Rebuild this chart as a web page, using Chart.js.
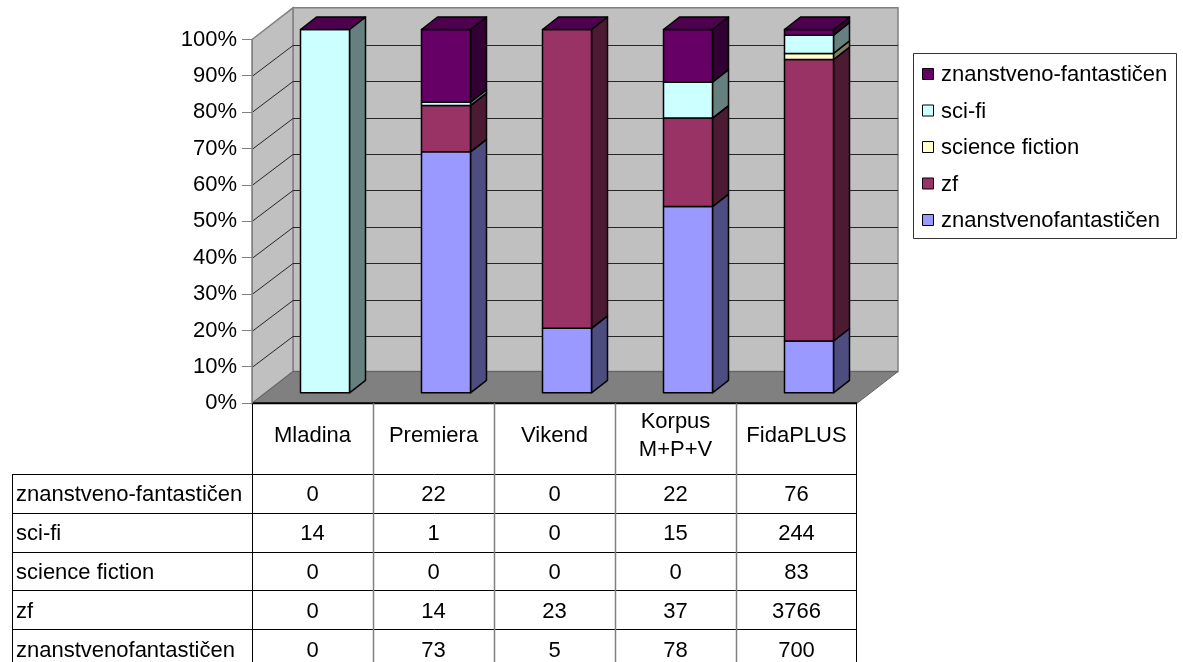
<!DOCTYPE html>
<html>
<head>
<meta charset="utf-8">
<script src="https://cdn.jsdelivr.net/npm/chart.js@4.4.0/dist/chart.umd.min.js"></script>
<style>
    html, body { margin: 0; padding: 0; background: #fff; }
    canvas { display: block; }
</style>
</head>
<body>
<canvas id="chart" width="1183" height="662"></canvas>
<script>
// Kategorije (viri)
const categories = ['Mladina', 'Premiera', 'Vikend', ['Korpus', 'M+P+V'], 'FidaPLUS'];
const yTickLabels = ['0%', '10%', '20%', '30%', '40%', '50%', '60%', '70%', '80%', '90%', '100%'];

// Pojavitve posameznih izrazov po virih
const znanstvenofantasticen = [0, 73, 5, 78, 700];
const zf = [0, 14, 23, 37, 3766];
const scienceFiction = [0, 0, 0, 0, 83];
const sciFi = [14, 1, 0, 15, 244];
const znanstvenoFantasticen = [0, 22, 0, 22, 76];

// vrstni red sklada: od spodaj navzgor
const seriesLabels = ['znanstvenofantastičen', 'zf', 'science fiction', 'sci-fi', 'znanstveno-fantastičen'];
const seriesValues = [znanstvenofantasticen, zf, scienceFiction, sciFi, znanstvenoFantasticen];

const frontColors = ['#9999FF', '#993366', '#FFFFCC', '#CCFFFF', '#660066'];
const sideColors  = ['#4D4D80', '#4D1A33', '#808066', '#668080', '#330033'];
const topColors   = ['#7373BF', '#73264D', '#BFBF99', '#99BFBF', '#4D004D'];

const FONT = '22px "Liberation Sans", Arial, sans-serif';
const WALL = { dx: 41, dy: -31.7 };                   // globina stene
const BAR = { sx: 12.5, sy: -10, dx: 16, dy: -12.5 }; // zamik in globina stolpcev

const totals = categories.map((_, i) => seriesValues.reduce((s, arr) => s + arr[i], 0));
const percent = arr => arr.map((v, i) => totals[i] ? v / totals[i] * 100 : 0);

function poly(ctx, pts, fill, stroke, lw) {
    ctx.beginPath();
    ctx.moveTo(pts[0][0], pts[0][1]);
    for (let k = 1; k < pts.length; k++) ctx.lineTo(pts[k][0], pts[k][1]);
    ctx.closePath();
    if (fill) { ctx.fillStyle = fill; ctx.fill(); }
    if (stroke) { ctx.strokeStyle = stroke; ctx.lineWidth = lw || 1; ctx.stroke(); }
}

function line(ctx, pts, color, lw) {
    ctx.beginPath();
    ctx.moveTo(pts[0][0], pts[0][1]);
    for (let k = 1; k < pts.length; k++) ctx.lineTo(pts[k][0], pts[k][1]);
    ctx.strokeStyle = color;
    ctx.lineWidth = lw || 1;
    ctx.stroke();
}

const walls3d = {
    id: 'walls3d',
    beforeDraw(chart) {
        const { ctx, chartArea: a, scales: { y } } = chart;
        const L = a.left, R = a.right, T = a.top, B = a.bottom;
        const dx = WALL.dx, dy = WALL.dy;
        ctx.save();
        // zadnja stena
        poly(ctx, [[L + dx, T + dy], [R + dx, T + dy], [R + dx, B + dy], [L + dx, B + dy]], '#C0C0C0', '#808080', 1.5);
        // leva stena
        poly(ctx, [[L, T], [L + dx, T + dy], [L + dx, B + dy], [L, B]], '#C0C0C0', '#808080', 1.5);
        // tla
        poly(ctx, [[L, B], [R, B], [R + dx, B + dy], [L + dx, B + dy]], '#808080', '#606060', 1);
        // mreža
        for (let v = 10; v < 100; v += 10) {
            const py = Math.round(y.getPixelForValue(v)) + 0.5;
            const by = Math.round(py + dy) + 0.5;
            line(ctx, [[L, py], [L + dx, by], [R + dx, by]], '#262626', 1);
        }
        line(ctx, [[L, B], [R, B]], '#000', 2);
        ctx.restore();
    },
    beforeDatasetsDraw(chart) {
        const ctx = chart.ctx;
        ctx.save();
        ctx.lineJoin = 'round';
        for (let i = 0; i < categories.length; i++) {
            let last = null;
            seriesValues.forEach((_, d) => {
                const el = chart.getDatasetMeta(d).data[i];
                const l = el.x - el.width / 2 + BAR.sx, r = el.x + el.width / 2 + BAR.sx;
                const t = el.y + BAR.sy, b = el.base + BAR.sy;
                last = { l, r, t };
                if (b - t < 0.05) return;
                poly(ctx, [[r, t], [r + BAR.dx, t + BAR.dy], [r + BAR.dx, b + BAR.dy], [r, b]], sideColors[d], '#000', 1.5);
                poly(ctx, [[l, t], [r, t], [r, b], [l, b]], frontColors[d], '#000', 1.5);
            });
            const top = seriesValues.length - 1;
            poly(ctx, [[last.l, last.t], [last.l + BAR.dx, last.t + BAR.dy], [last.r + BAR.dx, last.t + BAR.dy], [last.r, last.t]], topColors[top], '#000', 1.5);
        }
        ctx.restore();
        return false;
    },
    afterDraw(chart) {
        const { ctx, scales: { x } } = chart;
        ctx.save();
        ctx.font = FONT;
        ctx.fillStyle = '#000';
        ctx.textBaseline = 'middle';

        // legenda
        poly(ctx, [[913.5, 53.5], [1176.5, 53.5], [1176.5, 238.5], [913.5, 238.5]], null, '#333', 1);
        for (let k = 0; k < seriesLabels.length; k++) {
            const d = seriesLabels.length - 1 - k;
            const cy = 74 + k * 36.5;
            poly(ctx, [[922.5, cy - 5.5], [933.5, cy - 5.5], [933.5, cy + 5.5], [922.5, cy + 5.5]], frontColors[d], '#000', 1);
            ctx.fillStyle = '#000';
            ctx.textAlign = 'left';
            ctx.fillText(seriesLabels[d], 941, cy + 1);
        }

        // tabela s podatki
        const left = 12, colL = chart.chartArea.left, right = chart.chartArea.right;
        const headTop = chart.chartArea.bottom, headBottom = 474, rowH = 38.8;
        const bottom = chart.height;
        for (let k = 0; k < seriesLabels.length; k++) {
            const yy = Math.round(headBottom + k * rowH) + 0.5;
            line(ctx, [[left, yy], [right, yy]], '#000', 1);
        }
        line(ctx, [[left + 0.5, headBottom], [left + 0.5, bottom]], '#000', 1);
        line(ctx, [[colL + 0.5, headTop], [colL + 0.5, bottom]], '#000', 1);
        line(ctx, [[right - 0.5, headTop], [right - 0.5, bottom]], '#000', 1);
        for (let i = 1; i < categories.length; i++) {
            const xx = Math.round((x.getPixelForTick(i - 1) + x.getPixelForTick(i)) / 2) + 0.5;
            line(ctx, [[xx, headTop], [xx, bottom]], '#808080', 1.5);
        }

        ctx.fillStyle = '#000';
        ctx.textAlign = 'center';
        const headMid = (headTop + headBottom) / 2 - 2.5;
        categories.forEach((c, i) => {
            const cx = x.getPixelForTick(i);
            const lines = Array.isArray(c) ? c : [c];
            lines.forEach((t, j) => {
                ctx.fillText(t, cx, headMid + (j - (lines.length - 1) / 2) * 28.5);
            });
        });

        for (let k = 0; k < seriesLabels.length; k++) {
            const d = seriesLabels.length - 1 - k;
            const cy = headBottom + k * rowH + rowH / 2 + 2;
            ctx.textAlign = 'left';
            ctx.fillText(seriesLabels[d], left + 4, cy);
            ctx.textAlign = 'center';
            seriesValues[d].forEach((v, i) => ctx.fillText(String(v), x.getPixelForTick(i), cy));
        }
        ctx.restore();
    }
};

new Chart(document.getElementById('chart'), {
    type: 'bar',
    data: {
        labels: categories,
        datasets: seriesValues.map((arr, d) => ({
            label: seriesLabels[d],
            data: percent(arr),
            backgroundColor: frontColors[d],
            borderColor: '#000',
            borderWidth: 1,
            categoryPercentage: 1,
            barPercentage: 0.405
        }))
    },
    options: {
        responsive: false,
        animation: false,
        devicePixelRatio: 1,
        layout: { padding: { top: 39.5, right: 326, bottom: 258.7, left: 0 } },
        plugins: { legend: { display: false }, tooltip: { enabled: false } },
        scales: {
            x: { stacked: true, display: false },
            y: {
                stacked: true,
                min: 0,
                max: 100,
                afterFit: scale => { scale.width = 252; },
                ticks: {
                    stepSize: 10,
                    padding: 5,
                    color: '#000',
                    font: { family: '"Liberation Sans", Arial, sans-serif', size: 22 },
                    callback: v => yTickLabels[Math.round(v / 10)]
                },
                grid: { drawOnChartArea: false, drawTicks: true, tickLength: 10, color: '#808080' },
                border: { display: true, color: '#808080', width: 1 }
            }
        }
    },
    plugins: [walls3d]
});
</script>
</body>
</html>
